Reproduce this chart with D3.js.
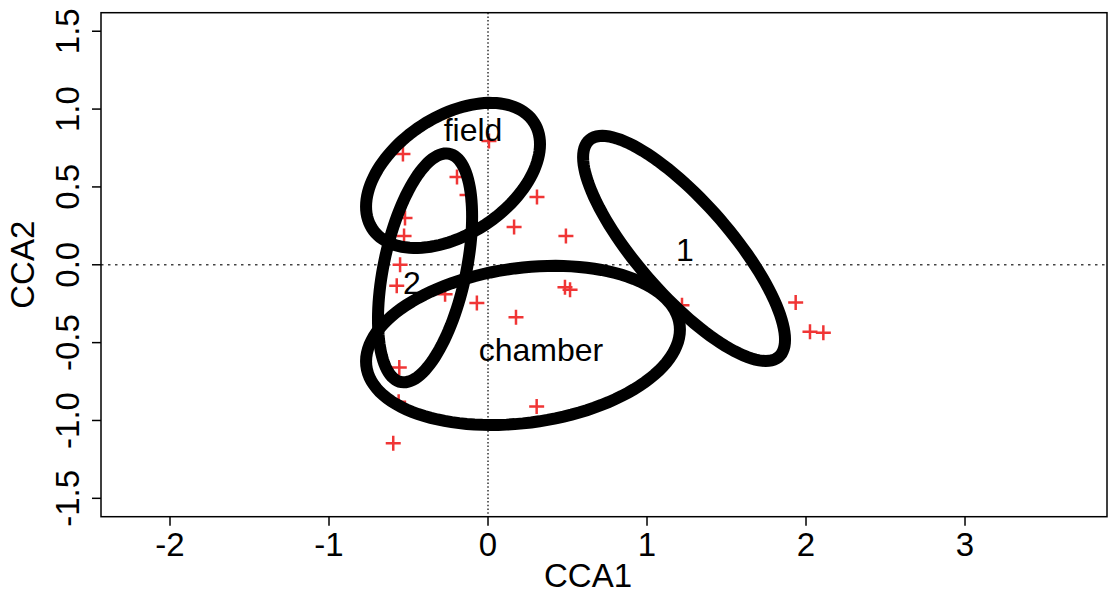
<!DOCTYPE html>
<html>
<head>
<meta charset="utf-8">
<script src="https://cdn.jsdelivr.net/npm/d3@7"></script>
<style>
  body { margin: 0; background: #fff; }
  text { font-family: "Liberation Sans", Arial, sans-serif; fill: #000; }
</style>
</head>
<body>
<svg id="chart" width="1108" height="594"></svg>
<script>
// site scores (red crosses)
var siteX = [-0.535, 0.006, -0.195, 0.308, -0.522, -0.528, 0.164, 0.49, -0.553, -0.574,
             -0.27, -0.07, 0.484, 0.516, 0.176, -0.558, -0.562, 0.306, -0.596, 1.935,
             2.025, 2.109, -0.132, 1.22];
var siteY = [0.712, 0.795, 0.564, 0.435, 0.30, 0.185, 0.243, 0.185, 0.0, -0.134,
             -0.19, -0.245, -0.145, -0.16, -0.337, -0.66, -0.88, -0.911, -1.146, -0.243,
             -0.43, -0.436, 0.448, -0.26];

// ellipses: centre, spread along each axis, correlation
var groupNames = ["field", "2", "chamber", "1"];
var ellCx = [-0.220, -0.396, 0.220, 1.233];
var ellCy = [0.574, -0.020, -0.518, 0.105];
var ellSx = [0.547, 0.296, 0.987, 0.635];
var ellSy = [0.466, 0.735, 0.511, 0.723];
var ellR  = [0.43, 0.45, 0.20, -0.81];
var labelX = [-0.094, -0.478, 0.333, 1.239];
var labelY = [0.866, -0.117, -0.549, 0.095];

var xTicks = [-2, -1, 0, 1, 2, 3];
var yTicks = [-1.5, -1.0, -0.5, 0.0, 0.5, 1.0, 1.5];

var svg = d3.select("#chart");
var pLeft = 101, pRight = 1107, pTop = 12.7, pBottom = 516.7;

var x = d3.scaleLinear().domain([-2.434, 3.893]).range([pLeft, pRight]);
var y = d3.scaleLinear().domain([-1.618, 1.619]).range([pBottom, pTop]);

// dotted origin lines
svg.append("line")
    .attr("x1", x(0)).attr("x2", x(0))
    .attr("y1", pTop).attr("y2", pBottom)
    .attr("stroke", "#222").attr("stroke-width", 1.4)
    .attr("stroke-dasharray", "1.5,2.2");
svg.append("line")
    .attr("x1", pLeft).attr("x2", pRight)
    .attr("y1", y(0)).attr("y2", y(0))
    .attr("stroke", "#444").attr("stroke-width", 1.4)
    .attr("stroke-dasharray", "2.5,4.5");

// points
var pts = svg.append("g").attr("stroke", "#f03535").attr("stroke-width", 2.5);
pts.selectAll("path")
    .data(d3.range(siteX.length))
    .enter()
    .append("path")
    .attr("d", function(i) {
        var px = x(siteX[i]), py = y(siteY[i]);
        return "M" + (px - 7.5) + "," + py + "H" + (px + 7.5) +
               "M" + px + "," + (py - 7.5) + "V" + (py + 7.5);
    });

// ellipses
var line = d3.line().curve(d3.curveLinearClosed);
var steps = d3.range(0, 120).map(function(i) { return 2 * Math.PI * i / 120; });

svg.selectAll("path.ell")
    .data(groupNames)
    .enter()
    .append("path")
    .attr("class", "ell")
    .attr("fill", "none")
    .attr("stroke", "#000")
    .attr("stroke-width", 12)
    .attr("d", function(d, k) {
        var q = Math.sqrt(1 - ellR[k] * ellR[k]);
        return line(steps.map(function(t) {
            return [x(ellCx[k] + ellSx[k] * Math.cos(t)),
                    y(ellCy[k] + ellSy[k] * (ellR[k] * Math.cos(t) + q * Math.sin(t)))];
        }));
    });

// group labels
svg.selectAll("text.grp")
    .data(groupNames)
    .enter()
    .append("text")
    .attr("class", "grp")
    .attr("x", function(d, k) { return x(labelX[k]); })
    .attr("y", function(d, k) { return y(labelY[k]); })
    .attr("dy", "0.35em")
    .attr("text-anchor", "middle")
    .style("font-size", "32px")
    .text(function(d) { return d; });

// box
svg.append("rect")
    .attr("x", pLeft).attr("y", pTop)
    .attr("width", pRight - pLeft).attr("height", pBottom - pTop)
    .attr("fill", "none").attr("stroke", "#000").attr("stroke-width", 1.5);

// x axis
var xAxis = svg.append("g");
xAxis.selectAll("line")
    .data(xTicks).enter().append("line")
    .attr("x1", function(d) { return x(d); }).attr("x2", function(d) { return x(d); })
    .attr("y1", pBottom).attr("y2", pBottom + 9)
    .attr("stroke", "#000").attr("stroke-width", 1.5);
xAxis.selectAll("text")
    .data(xTicks).enter().append("text")
    .attr("x", function(d) { return x(d); })
    .attr("y", 556)
    .attr("text-anchor", "middle")
    .style("font-size", "33px")
    .text(function(d) { return String(d); });

// y axis
var yAxis = svg.append("g");
yAxis.selectAll("line")
    .data(yTicks).enter().append("line")
    .attr("y1", function(d) { return y(d); }).attr("y2", function(d) { return y(d); })
    .attr("x1", pLeft).attr("x2", pLeft - 9)
    .attr("stroke", "#000").attr("stroke-width", 1.5);
yAxis.selectAll("text")
    .data(yTicks).enter().append("text")
    .attr("transform", function(d) { return "translate(79," + y(d) + ") rotate(-90)"; })
    .attr("text-anchor", "middle")
    .style("font-size", "33px")
    .text(function(d) { return d.toFixed(1); });

// axis titles
svg.append("text")
    .attr("x", 588).attr("y", 587)
    .attr("text-anchor", "middle")
    .style("font-size", "33px")
    .text("CCA1");
svg.append("text")
    .attr("transform", "translate(34," + (pTop + pBottom) / 2 + ") rotate(-90)")
    .attr("text-anchor", "middle")
    .style("font-size", "33px")
    .text("CCA2");
</script>
</body>
</html>
